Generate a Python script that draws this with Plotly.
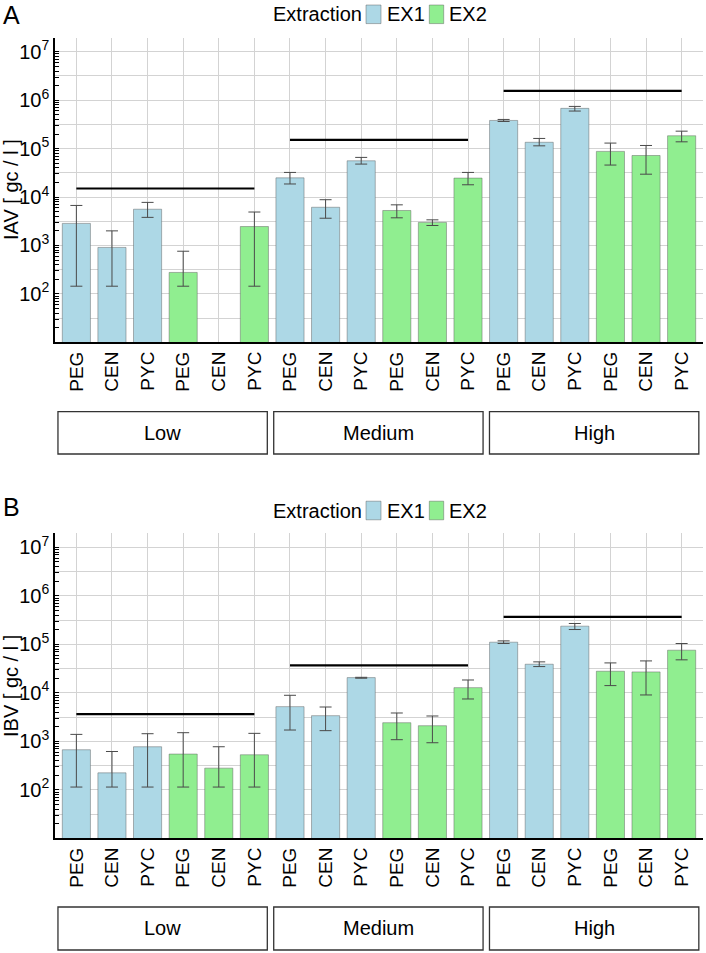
import plotly.graph_objects as go

# ---------------- data ----------------
levels = ["Low", "Medium", "High"]
extractions = ["EX1", "EX2"]
methods = ["PEG", "CEN", "PYC"]

# Panel A: IAV  (order: Low PEG,CEN,PYC, Medium PEG,CEN,PYC, High PEG,CEN,PYC)
iav_ex1_mean = [2850, 910, 5600, 24900, 6150, 56000, 381000, 135000, 677000]
iav_ex1_upper = [6700, 2000, 7750, 32200, 8800, 65800, 400000, 162000, 743000]
iav_ex1_lower = [144, 144, 3800, 18600, 3650, 47900, 363000, 114000, 596000]
iav_ex2_mean = [277, None, 2460, 5270, 2990, 24600, 87600, 72000, 184000]
iav_ex2_upper = [760, None, 4900, 6900, 3380, 32200, 130000, 116000, 229000]
iav_ex2_lower = [144, None, 144, 3720, 2580, 17900, 45700, 29600, 138000]
iav_level_lines = [15000, 151000, 1550000]

# Panel B: IBV
ibv_ex1_mean = [670, 224, 773, 5190, 3380, 20600, 110700, 38900, 237000]
ibv_ex1_upper = [1390, 617, 1435, 8900, 5100, 20900, 118000, 43500, 269000]
ibv_ex1_lower = [114, 114, 114, 1710, 1660, 20000, 104000, 34800, 202000]
ibv_ex2_mean = [546, 280, 528, 2420, 2100, 12800, 27900, 27000, 75700]
ibv_ex2_upper = [1506, 773, 1460, 3840, 3330, 18400, 41400, 45500, 104000]
ibv_ex2_lower = [114, 114, 114, 1080, 935, 7470, 14100, 9040, 47900]
ibv_level_lines = [3650, 37000, 369000]

colors = {"EX1": "#ADD8E6", "EX2": "#90EE90"}
FONT = "Liberation Sans, Arial, sans-serif"
OUTLINE = "rgba(90,90,90,0.45)"

# ---------------- helpers ----------------
def positions(ext_i):
    return [li * 6 + ext_i * 3 + mi for li in range(3) for mi in range(3)]

def err(mean, upper, lower):
    plus = [(u - m) if m is not None else 0 for m, u in zip(mean, upper)]
    minus = [(m - l) if m is not None else 0 for m, l in zip(mean, lower)]
    return plus, minus

fig = go.Figure()

panels = [
    dict(xa="x", ya="y",
         data={"EX1": (iav_ex1_mean, iav_ex1_upper, iav_ex1_lower),
               "EX2": (iav_ex2_mean, iav_ex2_upper, iav_ex2_lower)},
         lines=iav_level_lines),
    dict(xa="x2", ya="y2",
         data={"EX1": (ibv_ex1_mean, ibv_ex1_upper, ibv_ex1_lower),
               "EX2": (ibv_ex2_mean, ibv_ex2_upper, ibv_ex2_lower)},
         lines=ibv_level_lines),
]

for p in panels:
    for ei, ex in enumerate(extractions):
        mean, up, lo = p["data"][ex]
        plus, minus = err(mean, up, lo)
        fig.add_trace(go.Bar(
            x=positions(ei), y=mean, name=ex, showlegend=False,
            xaxis=p["xa"], yaxis=p["ya"],
            width=0.79,
            marker=dict(color=colors[ex], line=dict(color=OUTLINE, width=1)),
            error_y=dict(type="data", symmetric=False, array=plus, arrayminus=minus,
                         color="#4a4a4a", thickness=1, width=6),
        ))
    for li, v in enumerate(p["lines"]):
        fig.add_trace(go.Scatter(
            x=[li * 6, li * 6 + 5], y=[v, v], mode="lines",
            line=dict(color="black", width=2.2), showlegend=False,
            xaxis=p["xa"], yaxis=p["ya"], hoverinfo="skip",
        ))

W, H = 706, 953
def py(px):
    return 1 - px / H
def pxx(px):
    return px / W

tickpos = list(range(18))
ticktext = [methods[i % 3] for i in tickpos]

major_vals, major_text = [], []
for e in range(1, 8):
    major_vals.append(10 ** e)
    major_text.append("10<sup>%d</sup>" % e if e >= 2 else "")
    major_vals.append(10 ** (e + 0.5))
    major_text.append("")
minor_vals = [d * 10 ** e for e in range(1, 8) for d in range(1, 10)]

xdom = [55 / W, 703 / W]
ax_common_x = dict(
    range=[-0.6, 17.6], tickmode="array", tickvals=tickpos, ticktext=ticktext,
    tickangle=-90, tickfont=dict(size=19, color="black", family=FONT),
    showgrid=True, gridcolor="#d3d3d3", gridwidth=1,
    showline=True, linecolor="black", linewidth=1.5, ticks="", zeroline=False,
    domain=xdom,
)
ax_common_y = dict(
    type="log", range=[1, 7.29], tickmode="array", tickvals=major_vals, ticktext=major_text,
    tickfont=dict(size=20, color="black", family=FONT),
    showgrid=True, gridcolor="#d3d3d3", gridwidth=1,
    showline=True, linecolor="black", linewidth=1.5, ticks="", zeroline=False,
    minor=dict(tickmode="array", tickvals=minor_vals, ticks="inside", ticklen=4,
               tickcolor="black", showgrid=False),
)

fig.update_layout(
    width=W, height=H, margin=dict(l=0, r=0, t=0, b=0),
    paper_bgcolor="white", plot_bgcolor="white",
    font=dict(family=FONT, color="black", size=20),
    barmode="overlay", showlegend=False,
    xaxis=dict(**ax_common_x, anchor="y"),
    yaxis=dict(**ax_common_y, domain=[py(342.3), py(37.7)], anchor="x"),
    xaxis2=dict(**ax_common_x, anchor="y2"),
    yaxis2=dict(**ax_common_y, domain=[py(838.3), py(533.3)], anchor="x2"),
)

annotations = [
    dict(text="A", x=pxx(1), y=py(-1), xref="paper", yref="paper", xanchor="left", yanchor="top",
         showarrow=False, font=dict(size=25)),
    dict(text="B", x=pxx(1), y=py(491), xref="paper", yref="paper", xanchor="left", yanchor="top",
         showarrow=False, font=dict(size=25)),
    dict(text="IAV [ gc / l ]", x=pxx(11), y=py(190), xref="paper", yref="paper",
         xanchor="center", yanchor="middle",
         textangle=-90, showarrow=False, font=dict(size=20)),
    dict(text="IBV [ gc / l ]", x=pxx(11), y=py(686), xref="paper", yref="paper",
         xanchor="center", yanchor="middle",
         textangle=-90, showarrow=False, font=dict(size=20)),
]
shapes = []

# legends (one per panel), drawn as text + colour patches
legend_centers = [14.3, 510.5]
patch_x = {"EX1": (366, 381), "EX2": (429.3, 443.7)}
label_x = {"EX1": 385, "EX2": 447.5}
for cy in legend_centers:
    annotations.append(dict(text="Extraction", x=pxx(271), y=py(cy), xref="paper", yref="paper",
                            xanchor="left", yanchor="middle", showarrow=False, font=dict(size=20)))
    for ex in extractions:
        x0, x1 = patch_x[ex]
        shapes.append(dict(type="rect", xref="paper", yref="paper",
                           x0=pxx(x0), x1=pxx(x1), y0=py(cy + 9.3), y1=py(cy - 9.3),
                           fillcolor=colors[ex], line=dict(color=OUTLINE, width=1)))
        annotations.append(dict(text=ex, x=pxx(label_x[ex]), y=py(cy), xref="paper", yref="paper",
                                xanchor="left", yanchor="middle", showarrow=False,
                                font=dict(size=20)))

box_rows = [("x", py(411.7), py(454)), ("x2", py(907), py(950))]
for xr, y0, y1 in box_rows:
    for g, lvl in enumerate(levels):
        x0 = -0.517 + g * 6.06
        x1 = x0 + 5.88
        shapes.append(dict(type="rect", xref=xr, yref="paper", x0=x0, x1=x1, y0=y1, y1=y0,
                           line=dict(color="#333333", width=1.3), fillcolor="rgba(0,0,0,0)"))
        annotations.append(dict(text=lvl, x=(x0 + x1) / 2, y=(y0 + y1) / 2, xref=xr, yref="paper",
                                xanchor="center", yanchor="middle",
                                showarrow=False, font=dict(size=20)))

fig.update_layout(annotations=annotations, shapes=shapes)
fig.write_html("out.html", config={"displayModeBar": False},
               post_script="document.body.style.margin='0';document.body.style.overflow='hidden';")
